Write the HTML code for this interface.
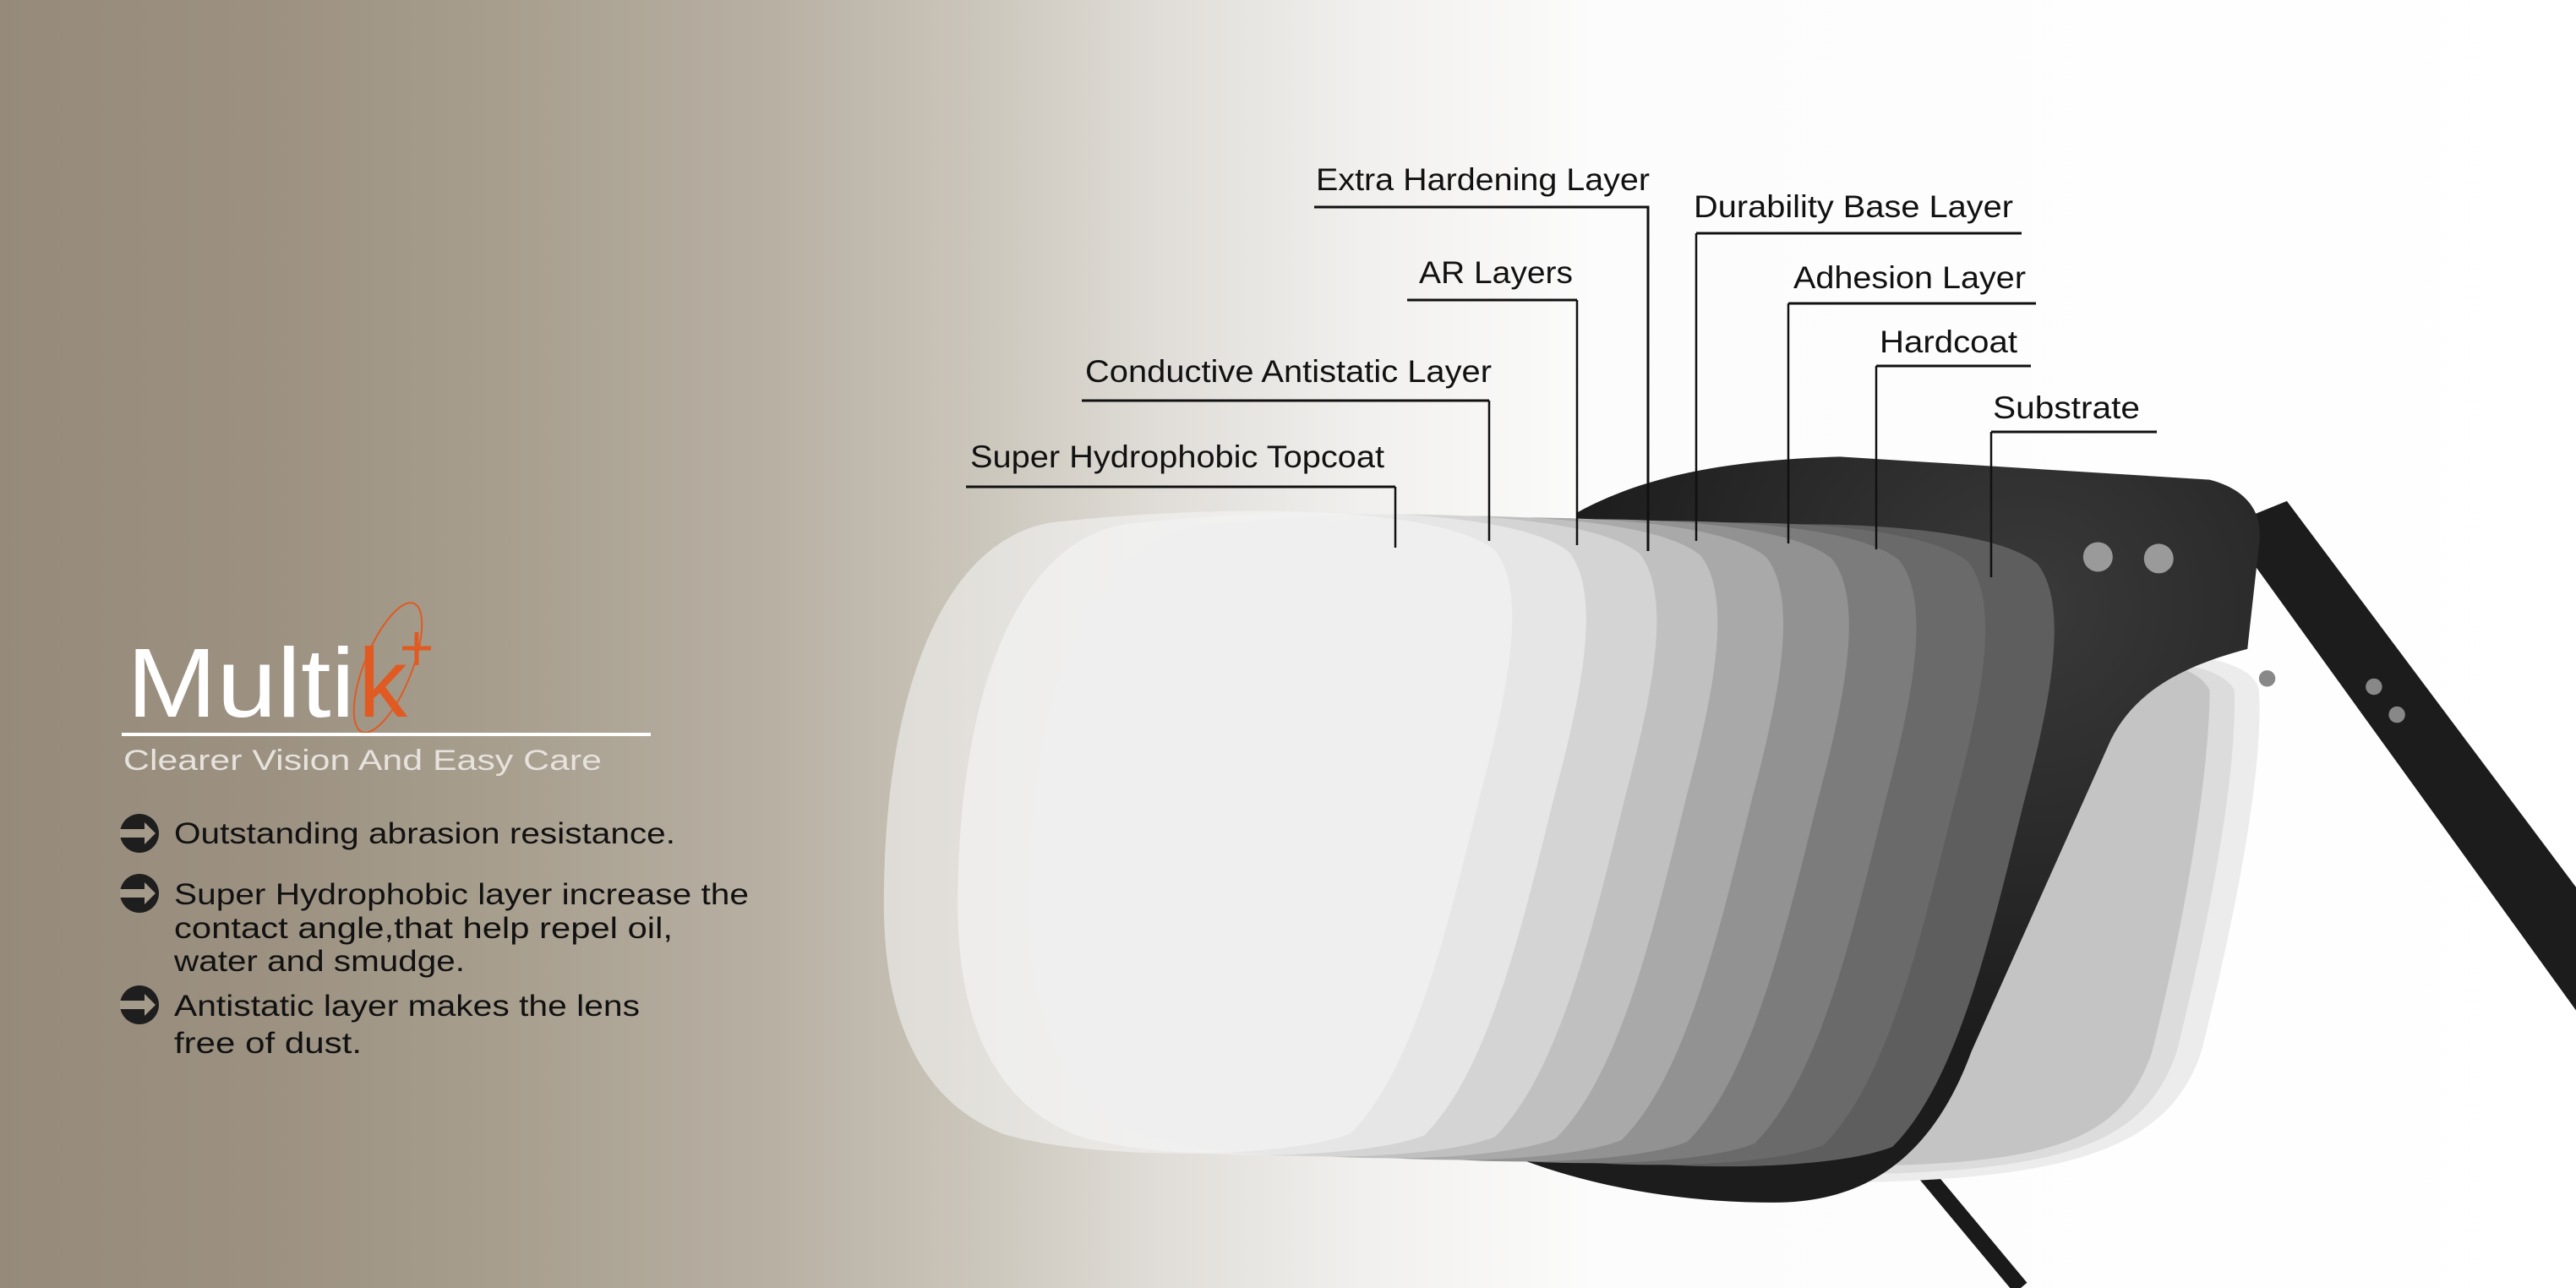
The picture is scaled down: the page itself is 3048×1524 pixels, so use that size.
<!DOCTYPE html>
<html><head><meta charset="utf-8"><style>
html,body{margin:0;padding:0;width:3048px;height:1524px;overflow:hidden;background:#fff}
svg{display:block}
</style></head><body>
<svg width="3048" height="1524" viewBox="0 0 3048 1524" xmlns="http://www.w3.org/2000/svg">
<defs>
<linearGradient id="bg" x1="0" y1="0" x2="1" y2="0">
<stop offset="0" stop-color="#968b7b"/>
<stop offset="0.1" stop-color="#9c9181"/>
<stop offset="0.2" stop-color="#a89f8f"/>
<stop offset="0.3" stop-color="#b8b0a3"/>
<stop offset="0.38" stop-color="#cbc6bb"/>
<stop offset="0.45" stop-color="#e0ddd8"/>
<stop offset="0.53" stop-color="#f1f0ee"/>
<stop offset="0.62" stop-color="#fcfcfc"/>
<stop offset="1" stop-color="#ffffff"/>
</linearGradient>
<radialGradient id="fr" cx="0.7" cy="0.2" r="0.6">
<stop offset="0" stop-color="#3a3a3a"/>
<stop offset="1" stop-color="#1c1c1c"/>
</radialGradient>
<path id="lens" d="M640,318 C760,305 880,310 910,335 C930,360 918,420 902,480 C882,560 862,650 822,690 C782,706 660,706 610,690 C560,670 538,620 538,550 C538,430 570,330 640,318 Z"/>
</defs>
<rect width="3048" height="1524" fill="url(#bg)"/>

<g transform="scale(1.94388)">
<path d="M1135,670 L1230,784" stroke="#1a1a1a" stroke-width="10" fill="none"/>
<path d="M1355,320 L1392,305 L1568,540 L1568,615 Z" fill="#1c1c1c"/>
<circle cx="1445" cy="418" r="5" fill="#888"/>
<circle cx="1459" cy="435" r="5" fill="#888"/>
<g>
<path d="M1250,400 C1300,395 1370,395 1375,420 C1378,470 1360,560 1340,640 C1320,700 1260,720 1100,720 L1100,500 Z" fill="#ececec"/>
<path d="M1250,400 C1290,400 1350,400 1360,420 C1362,470 1345,560 1325,640 C1305,700 1250,715 1100,715 L1100,500 Z" fill="#dcdcdc"/>
<path d="M1250,400 C1290,400 1335,400 1345,420 C1345,470 1330,560 1310,640 C1290,700 1240,710 1100,710 L1100,500 Z" fill="#c4c4c4"/>
</g>
<path d="M960,312 C1000,290 1050,280 1120,278 L1345,292 C1368,298 1378,312 1375,332 L1368,395 C1330,405 1300,420 1285,450 L1200,640 C1178,700 1140,732 1080,732 C1010,732 950,718 900,695 Z" fill="url(#fr)"/>
<circle cx="1277" cy="339" r="9" fill="#9a9a9a"/>
<circle cx="1314" cy="340" r="9" fill="#9a9a9a"/>
<circle cx="1380" cy="413" r="5" fill="#888"/>
<use href="#lens" transform="translate(330,8)" fill="#5e5e5e"/>
<use href="#lens" transform="translate(288,7)" fill="#6a6a6a"/>
<use href="#lens" transform="translate(246,6)" fill="#7c7c7c"/>
<use href="#lens" transform="translate(205,5)" fill="#929292"/>
<use href="#lens" transform="translate(165,4)" fill="#a9a9a9"/>
<use href="#lens" transform="translate(125,3)" fill="#c0c0c0"/>
<use href="#lens" transform="translate(88,2)" fill="#d6d6d6" opacity="0.9"/>
<use href="#lens" transform="translate(45,1)" fill="#ececec" opacity="0.75"/>
<use href="#lens" fill="#f6f6f6" opacity="0.55"/>
</g>

<g stroke="#111" fill="none">
<path d="M1555,245 H1950 V652" stroke-width="3"/>
<path d="M2007,276 H2392" stroke-width="3"/><path d="M2007,276 V640" stroke-width="2.5"/>
<path d="M1665,355 H1866" stroke-width="3"/><path d="M1866,355 V645" stroke-width="2.5"/>
<path d="M2116,359 H2409" stroke-width="3"/><path d="M2116,359 V643" stroke-width="2.5"/>
<path d="M2220,433 H2403" stroke-width="3"/><path d="M2220,433 V650" stroke-width="2.5"/>
<path d="M1280,474 H1762" stroke-width="3"/><path d="M1762,474 V640" stroke-width="2.5"/>
<path d="M2356,511 H2552" stroke-width="3"/><path d="M2356,511 V683" stroke-width="2.5"/>
<path d="M1143,576 H1651" stroke-width="3"/><path d="M1651,576 V648" stroke-width="2.5"/>
</g>
<g font-family="Liberation Sans, sans-serif" font-size="37" fill="#111">
<text x="1557" y="225" textLength="395" lengthAdjust="spacingAndGlyphs">Extra Hardening Layer</text>
<text x="2004" y="257" textLength="378" lengthAdjust="spacingAndGlyphs">Durability Base Layer</text>
<text x="1679" y="335" textLength="182" lengthAdjust="spacingAndGlyphs">AR Layers</text>
<text x="2122" y="341" textLength="275" lengthAdjust="spacingAndGlyphs">Adhesion Layer</text>
<text x="2224" y="417" textLength="163" lengthAdjust="spacingAndGlyphs">Hardcoat</text>
<text x="1284" y="452" textLength="481" lengthAdjust="spacingAndGlyphs">Conductive Antistatic Layer</text>
<text x="2358" y="495" textLength="174" lengthAdjust="spacingAndGlyphs">Substrate</text>
<text x="1148" y="553" textLength="490" lengthAdjust="spacingAndGlyphs">Super Hydrophobic Topcoat</text>
</g>

<g font-family="Liberation Sans, sans-serif">
<text x="150" y="848" font-size="116" fill="#fff" textLength="270" lengthAdjust="spacingAndGlyphs">Multi</text>
<text x="424" y="848" font-size="116" fill="#e05a22">k</text>
</g>
<path d="M476,767 H510 M493,748 V787" stroke="#e05a22" stroke-width="5"/>
<ellipse cx="459" cy="790" rx="28" ry="82" transform="rotate(22 459 790)" fill="none" stroke="#e05a22" stroke-width="2"/>
<rect x="144" y="867" width="626" height="4" fill="#fff"/>
<text x="146" y="911" font-family="Liberation Sans, sans-serif" font-size="34" fill="#e6e2dc" textLength="566" lengthAdjust="spacingAndGlyphs">Clearer Vision And Easy Care</text>

<g>
<g transform="translate(165,986)"><circle r="23" fill="#1e1e1e"/><path d="M-23,-5 H6 V-13 L19,0 L6,13 V5 H-23 Z" fill="#a59b8b"/></g>
<g transform="translate(165,1057)"><circle r="23" fill="#1e1e1e"/><path d="M-23,-5 H6 V-13 L19,0 L6,13 V5 H-23 Z" fill="#a59b8b"/></g>
<g transform="translate(165,1189)"><circle r="23" fill="#1e1e1e"/><path d="M-23,-5 H6 V-13 L19,0 L6,13 V5 H-23 Z" fill="#a59b8b"/></g>
</g>
<g font-family="Liberation Sans, sans-serif" font-size="35" fill="#111">
<text x="206" y="998" textLength="593" lengthAdjust="spacingAndGlyphs">Outstanding abrasion resistance.</text>
<text x="206" y="1070" textLength="680" lengthAdjust="spacingAndGlyphs">Super Hydrophobic layer increase the</text>
<text x="206" y="1110" textLength="590" lengthAdjust="spacingAndGlyphs">contact angle,that help repel oil,</text>
<text x="206" y="1149" textLength="344" lengthAdjust="spacingAndGlyphs">water and smudge.</text>
<text x="206" y="1202" textLength="551" lengthAdjust="spacingAndGlyphs">Antistatic layer makes the lens</text>
<text x="206" y="1246" textLength="222" lengthAdjust="spacingAndGlyphs">free of dust.</text>
</g>
</svg>
</body></html>
